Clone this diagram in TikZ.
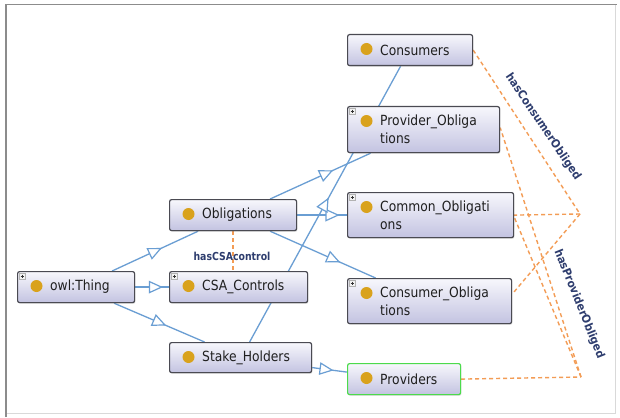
\documentclass[tikz,border=0pt]{standalone}
\usepackage{fontspec}
\newfontfamily\boxfont[FakeStretch=0.88]{DejaVu Sans}
\newfontfamily\relfont[FakeStretch=0.85]{DejaVu Sans}
\newfontfamily\relfontwide[FakeStretch=0.91]{DejaVu Sans}
\usetikzlibrary{decorations.markings,calc,shadows}

\definecolor{isaBlue}{HTML}{6A9ED3}
\definecolor{relOrange}{HTML}{F39C55}
\definecolor{relText}{HTML}{2E3D6E}
\definecolor{dotGold}{HTML}{D9A21C}
\definecolor{boxTop}{HTML}{F7F7FC}
\definecolor{boxBottom}{HTML}{C3C3E1}
\definecolor{boxEdge}{HTML}{4A4A52}
\definecolor{selGreen}{HTML}{4CDB4C}

\pgfdeclarelayer{edges}
\pgfsetlayers{edges,main}

\tikzset{
  classbox/.style={draw=boxEdge, line width=1.2pt, rounded corners=2pt,
    top color=boxTop, bottom color=boxBottom, inner sep=0pt, anchor=north west,
    drop shadow={shadow xshift=0.8pt, shadow yshift=-1.2pt, opacity=0.25}},
  selected/.style={draw=selGreen},
  classname/.style={font=\boxfont\fontsize{14}{18}\selectfont, text=black!88,
    align=left, inner sep=0pt, anchor=west},
  % subclass edge with an open triangle part way along it
  isa/.style={draw=isaBlue, line width=1.3pt, postaction={decorate},
    decoration={markings, mark=at position #1 with
      {\draw[isaBlue, fill=white, line width=1.2pt, line join=miter]
         (6pt,0pt) -- (-6pt,5.5pt) -- (-6pt,-5.5pt) -- cycle;}}},
  isa/.default=0.5,
  rel/.style={draw=relOrange, line width=1.4pt, dash pattern=on 4pt off 3pt},
  rellabel/.style={font=\relfont\bfseries\fontsize{11}{12}\selectfont, text=relText, inner sep=1pt},
  rellabelrot/.style={font=\relfontwide\bfseries\fontsize{11.5}{12}\selectfont, text=relText, inner sep=1pt},
}

% class box: [extra style] name, left, top, width, height
\newcommand\classnode[6][]{%
  \node[classbox, #1, minimum width=#5pt, minimum height=#6pt] (#2) at (#3,#4) {};
  \fill[dotGold] ([shift={(19.5pt,-15pt)}]#2.north west) circle (6pt);
}
\newcommand\classname[2]{%
  \node[classname] (#1-name) at ([xshift=33pt]#1.west) {#2};
}
% small expand marker in the top-left corner
\newcommand\expandmark[1]{%
  \draw[gray!60, fill=gray!10, line width=0.4pt] ([shift={(2.5pt,-2.5pt)}]#1.north west) rectangle ++(6pt,-6pt);
  \draw[black!80, line width=0.6pt] ([shift={(3.7pt,-5.5pt)}]#1.north west) -- ++(3.6pt,0pt)
    ([shift={(5.5pt,-3.7pt)}]#1.north west) -- ++(0pt,-3.6pt);
}

\begin{document}
\begin{tikzpicture}[x=1pt,y=-1pt]
\useasboundingbox (0,0) rectangle (620,417);

% classes
\classnode{thing}{17}{271}{117}{31}
\classnode{obl}{169}{199}{127}{31}
\classnode{csa}{169}{271}{138}{31}
\classnode{stake}{169}{342}{142}{30}
\classnode{cons}{347}{34}{125}{31}
\classnode{provobl}{347}{106}{152}{46}
\classnode{commobl}{347}{192}{166}{45}
\classnode{consobl}{347}{278}{164}{45}
\classnode[selected]{provs}{347}{363}{113}{31}

\classname{thing}{owl:Thing}
\classname{obl}{Obligations}
\classname{csa}{CSA\_Controls}
\classname{stake}{Stake\_Holders}
\classname{cons}{Consumers}
\classname{provobl}{Provider\_Obliga\\tions}
\classname{commobl}{Common\_Obligati\\ons}
\classname{consobl}{Consumer\_Obliga\\tions}
\classname{provs}{Providers}

\expandmark{thing}
\expandmark{csa}
\expandmark{provobl}
\expandmark{commobl}
\expandmark{consobl}

% join points of the property edges
\coordinate (consJoin) at (580,214);
\coordinate (provJoin) at (581,377);

\begin{pgfonlayer}{edges}
  % canvas and panel frame
  \fill[white] (0,0) rectangle (620,417);
  \draw[black!15, line width=0.8pt] (615,5) -- (615,413) -- (6,413);
  \draw[black!45, line width=1.6pt] (6,417) -- (6,4.5) -- (617,4.5);

  % subclass edges
  \draw[isa] ([xshift=36pt]thing.north) -- ([xshift=-35pt]obl.south);
  \draw[isa=0.6] (thing.east) -- (csa.west);
  \draw[isa] ([xshift=38pt]thing.south) -- ([xshift=-36pt]stake.north);
  \draw[isa=0.56] ([xshift=37pt]obl.north) -- ([xshift=-53pt]provobl.south);
  \draw[isa=0.7] (obl.east) -- (commobl.west);
  \draw[isa=0.6] ([xshift=37pt]obl.south) -- ([xshift=-54pt]consobl.north);
  \draw[isa] ([xshift=9pt]stake.north) -- ([xshift=-9.5pt]cons.south);
  \draw[isa=0.4] ([yshift=-10pt]stake.east) -- ([yshift=7pt]provs.west);

  % object property edges
  \draw[rel] (obl.south) -- (obl.south |- csa.north);
  \draw[rel] (cons.east) -- (consJoin);
  \draw[rel] (consJoin) -- (commobl.east);
  \draw[rel] (consJoin) -- ([yshift=7pt]consobl.east);
  \draw[rel] (provs.east) -- (provJoin);
  \draw[rel] (provJoin) -- ([yshift=2pt]provobl.east);
  \draw[rel] (provJoin) -- ([yshift=-2pt]commobl.east);
\end{pgfonlayer}

\node[rellabel] (lblCsa) at (232,256) {hasCSAcontrol};
\node[rellabelrot, rotate=-56] (lblCons) at (543,127) {hasConsumerObliged};
\node[rellabelrot, rotate=-68] (lblProv) at (579,304) {hasProviderObliged};
\end{tikzpicture}
\end{document}
